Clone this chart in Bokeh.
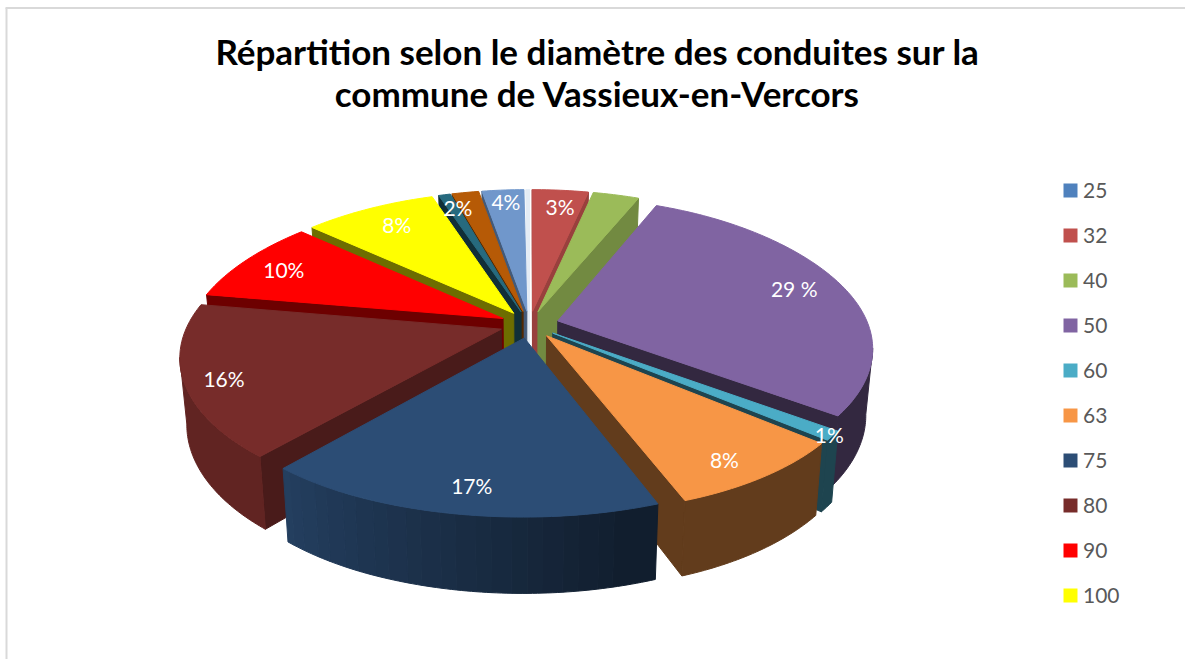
import math
from bokeh.plotting import figure
from bokeh.models import Range1d, ColumnDataSource
from bokeh.core.properties import value
from bokeh.embed import file_html
from bokeh.resources import INLINE

# ---- data ----
TITLE_LINES = ["Répartition selon le diamètre des conduites sur la",
               "commune de Vassieux-en-Vercors"]
LEGEND_LABELS = ["25", "32", "40", "50", "60", "63", "75", "80", "90", "100"]
SHARES = [0.2, 3.35, 2.75, 29.2, 1.0, 8.1, 16.7, 16.7, 9.15, 8.05, 0.7, 1.6, 2.5]
SLICE_LABELS = ["", "3%", "", "29 %", "1%", "8%", "17%", "16%", "10%", "8%", "", "2%", "4%"]

# ---- styles ----
LEGEND_COLORS = ["#4f81bd", "#c0504d", "#9bbb59", "#8064a2", "#4bacc6",
                 "#f79646", "#2c4d75", "#772c2a", "#ff0000", "#ffff00"]
TOP_COLORS = ["#e4ecf5", "#c0504d", "#9bbb59", "#8064a2", "#4bacc6", "#f79646",
              "#2c4d75", "#772c2a", "#ff0000", "#ffff00", "#276a7e", "#b65a06", "#7097cb"]
WALL_SHADE = [1.0, 0.8, 0.74, 0.4, 0.4, 0.4, 0.6, 0.62, 0.43, 0.43, 0.45, 0.45, 0.6]
LABEL_ANGLE = [0, 6.8, 0, 73.5, 129, 147, 189, 248.4, 296, 329, 0, 344, 355]
LABEL_RADIUS = [0, 0.86, 0, 0.835, 0.99, 0.875, 0.86, 0.885, 0.84, 0.83, 0, 0.875, 0.895]

CX, CY, RX, KY, HZ, D, EXPL = 529.0, 324.0, 320.0, 142.0, 66.0, 5.65, 0.095
START_DEG = -0.7


def project(X, Y, z=0.0):
    s = D / (D - Y) * (1 - 0.02 * z)
    squeeze = 1 - (0.03 if X > 0 else 0.02) * (1 - min(1.0, Y * Y) ** 2)
    lift = 1 + 0.03 * Y * Y if Y < 0 else 1
    return CX + s * RX * X * squeeze, CY + s * (KY * Y * lift + HZ * z)


def unit(deg):
    a = math.radians(deg)
    return math.sin(a), -math.cos(a)


def shade(color, f):
    r, g, b = (int(color[i:i + 2], 16) for i in (1, 3, 5))
    return "#%02x%02x%02x" % (int(r * f), int(g * f), int(b * f))


def rim_shade(deg):
    deg = deg % 360
    if deg <= 165:
        f = 0.4
    elif deg >= 220:
        f = 0.82
    else:
        f = 0.4 + 0.42 * (deg - 165) / 55
    return round(f * 50) / 50


slices = []
acc = START_DEG
total = sum(SHARES)
for i, share in enumerate(SHARES):
    a0 = acc
    a1 = acc + share / total * 360
    acc = a1
    mid = (a0 + a1) / 2
    ux, uy = unit(mid)
    slices.append(dict(i=i, a0=a0, a1=a1, mid=mid, ox=EXPL * ux, oy=EXPL * uy))

xs, ys, cols = [], [], []


def add(points, color):
    xs.append([q[0] for q in points])
    ys.append([q[1] for q in points])
    cols.append(color)


for sl in sorted(slices, key=lambda t: unit(t["mid"])[1]):
    i, a0, a1, ox, oy = sl["i"], sl["a0"], sl["a1"], sl["ox"], sl["oy"]
    base = TOP_COLORS[i]
    # radial walls
    for ang, sign in ((a0, -1), (a1, 1)):
        a = math.radians(ang)
        n = (sign * math.cos(a), sign * math.sin(a))
        if n[0] * (0 - ox) + n[1] * (D - oy) > 0:
            ux, uy = unit(ang)
            add([project(ox, oy), project(ox + ux, oy + uy),
                 project(ox + ux, oy + uy, 1), project(ox, oy, 1)],
                shade(base, WALL_SHADE[i]))
    # outer rim: visible steps merged into bands of equal shade
    steps = max(1, int((a1 - a0) / 0.75))
    bands = []
    for k in range(steps):
        b0 = a0 + (a1 - a0) * k / steps
        b1 = a0 + (a1 - a0) * (k + 1) / steps
        bm = (b0 + b1) / 2
        ux, uy = unit(bm)
        if ux * (0 - ox - ux) + uy * (D - oy - uy) > 0:
            f = rim_shade(bm)
            if bands and bands[-1][2] == f and abs(bands[-1][1] - b0) < 1e-9:
                bands[-1][1] = b1
            else:
                bands.append([b0, b1, f])
    for b0, b1, f in bands:
        n = max(1, int((b1 - b0) / 0.75))
        angs = [b0 + (b1 - b0) * q / n for q in range(n + 1)]
        topline = [project(ox + unit(t)[0], oy + unit(t)[1]) for t in angs]
        botline = [project(ox + unit(t)[0], oy + unit(t)[1], 1) for t in reversed(angs)]
        add(topline + botline, shade(base, f))
    # top face
    pts = [project(ox, oy)]
    steps = max(2, int((a1 - a0) / 1.0))
    for k in range(steps + 1):
        u, v = unit(a0 + (a1 - a0) * k / steps)
        pts.append(project(ox + u, oy + v))
    add(pts, base)

p = figure(width=1185, height=659, output_backend="svg", toolbar_location=None,
           x_range=Range1d(0, 1185), y_range=Range1d(659, 0),
           x_axis_location=None, y_axis_location=None,
           min_border=0, outline_line_color=None)
p.xgrid.visible = False
p.ygrid.visible = False

# chart frame
p.segment(x0=[6, 5], y0=[7.5, 7.5], x1=[6, 1185], y1=[659, 7.5], line_color="#d9d9d9", line_width=2)

p.patches("xs", "ys", fill_color="c", line_color="c", line_width=1,
          source=ColumnDataSource(dict(xs=xs, ys=ys, c=cols)))

# slice labels
lx, ly, lt = [], [], []
for sl in slices:
    i = sl["i"]
    if SLICE_LABELS[i]:
        u, v = unit(LABEL_ANGLE[i])
        x, y = project(sl["ox"] + LABEL_RADIUS[i] * u, sl["oy"] + LABEL_RADIUS[i] * v)
        lx.append(x)
        ly.append(y)
        lt.append(SLICE_LABELS[i])
p.text(lx, ly, text=lt, text_color="#ffffff", text_align="center", text_baseline="middle",
       text_font=value("Lato"), text_font_size="21px")

# title
p.text([597, 597], [50.5, 92.5], text=TITLE_LINES, text_color="#000000", text_align="center",
       text_baseline="middle", text_font=value("Lato"), text_font_style="bold", text_font_size="35px")

# legend
ly0, lstep = 190.0, 45.0
leg_y = [ly0 + j * lstep for j in range(len(LEGEND_LABELS))]
p.rect([1070] * len(leg_y), leg_y, width=14, height=14, fill_color=LEGEND_COLORS, line_color=None)
p.text([1082.5] * len(leg_y), leg_y, text=LEGEND_LABELS, text_color="#595959", text_align="left",
       text_baseline="middle", text_font=value("Lato"), text_font_size="21px")

open("out.html", "w").write(file_html(p, INLINE))
